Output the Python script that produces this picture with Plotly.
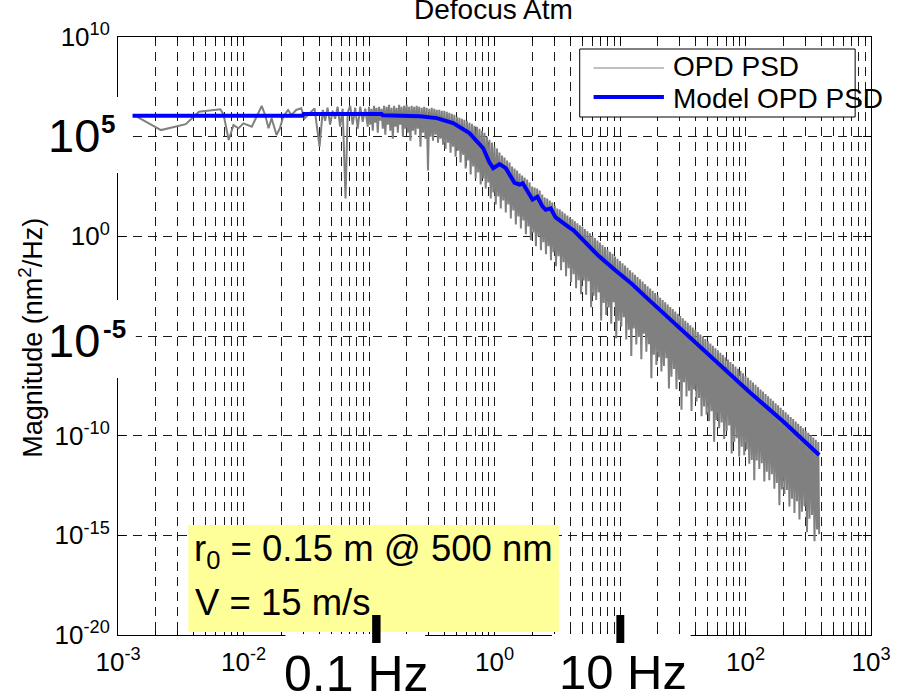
import plotly.graph_objects as go

opd_log_f = [
    -2.847, -2.657, -2.46, -2.355, -2.184, -2.158, -2.118, -2.08, -2.04, -2.0,
    -1.934, -1.855, -1.828, -1.80, -1.776, -1.737, -1.71, -1.684, -1.645, -1.618,
    -1.58, -1.54, -1.513, -1.473, -1.434, -1.394, -1.368, -1.35, -1.33, -1.31,
    -1.29, -1.27, -1.25, -1.23, -1.21, -1.187, -1.17, -1.15, -1.13, -1.11,
    -1.09, -1.07, -1.05, -1.03, -1.01,
    -1.00, -0.99, -0.98, -0.97, -0.96, -0.95, -0.94, -0.93, -0.92, -0.91,
    -0.90, -0.89, -0.88, -0.87, -0.86, -0.85, -0.84, -0.83, -0.82, -0.81,
    -0.80, -0.79, -0.78, -0.77, -0.76, -0.75, -0.74, -0.73, -0.72, -0.71,
    -0.70, -0.69, -0.68, -0.67, -0.66, -0.65, -0.64, -0.63, -0.62, -0.61,
    -0.60, -0.59, -0.58, -0.57, -0.56, -0.55, -0.54, -0.53, -0.52, -0.51,
    -0.50, -0.49, -0.48, -0.47, -0.46, -0.45, -0.44, -0.43, -0.42, -0.41,
    -0.40, -0.39, -0.38, -0.37, -0.36, -0.35, -0.34, -0.33, -0.32, -0.31,
    -0.30, -0.29, -0.28, -0.27, -0.26, -0.25, -0.24, -0.23, -0.22, -0.21,
    -0.20, -0.19, -0.18, -0.17, -0.16, -0.15, -0.14, -0.13, -0.12, -0.11,
    -0.10, -0.09, -0.08, -0.07, -0.06, -0.05, -0.04, -0.03, -0.02, -0.01,
    0.00, 0.01, 0.02, 0.03, 0.04, 0.05, 0.06, 0.07, 0.08, 0.09,
    0.10, 0.11, 0.12, 0.13, 0.14, 0.15, 0.16, 0.17, 0.18, 0.19,
    0.20, 0.21, 0.22, 0.23, 0.24, 0.25, 0.26, 0.27, 0.28, 0.29,
    0.30, 0.31, 0.32, 0.33, 0.34, 0.35, 0.36, 0.37, 0.38, 0.39,
    0.40, 0.41, 0.42, 0.43, 0.44, 0.45, 0.46, 0.47, 0.48, 0.49,
    0.50, 0.51, 0.52, 0.53, 0.54, 0.55, 0.56, 0.57, 0.58, 0.59,
    0.60, 0.61, 0.62, 0.63, 0.64, 0.65, 0.66, 0.67, 0.68, 0.69,
    0.70, 0.71, 0.72, 0.73, 0.74, 0.75, 0.76, 0.77, 0.78, 0.79,
    0.80, 0.81, 0.82, 0.83, 0.84, 0.85, 0.86, 0.87, 0.88, 0.89,
    0.90, 0.91, 0.92, 0.93, 0.94, 0.95, 0.96, 0.97, 0.98, 0.99,
    1.00, 1.01, 1.02, 1.03, 1.04, 1.05, 1.06, 1.07, 1.08, 1.09,
    1.10, 1.11, 1.12, 1.13, 1.14, 1.15, 1.16, 1.17, 1.18, 1.19,
    1.20, 1.21, 1.22, 1.23, 1.24, 1.25, 1.26, 1.27, 1.28, 1.29,
    1.30, 1.31, 1.32, 1.33, 1.34, 1.35, 1.36, 1.37, 1.38, 1.39,
    1.40, 1.41, 1.42, 1.43, 1.44, 1.45, 1.46, 1.47, 1.48, 1.49,
    1.50, 1.51, 1.52, 1.53, 1.54, 1.55, 1.56, 1.57, 1.58, 1.59,
    1.60, 1.61, 1.62, 1.63, 1.64, 1.65, 1.66, 1.67, 1.68, 1.69,
    1.70, 1.71, 1.72, 1.73, 1.74, 1.75, 1.76, 1.77, 1.78, 1.79,
    1.80, 1.81, 1.82, 1.83, 1.84, 1.85, 1.86, 1.87, 1.88, 1.89,
    1.90, 1.91, 1.92, 1.93, 1.94, 1.95, 1.96, 1.97, 1.98, 1.99,
    2.00, 2.01, 2.02, 2.03, 2.04, 2.05, 2.06, 2.07, 2.08, 2.09,
    2.10, 2.11, 2.12, 2.13, 2.14, 2.15, 2.16, 2.17, 2.18, 2.19,
    2.20, 2.21, 2.22, 2.23, 2.24, 2.25, 2.26, 2.27, 2.28, 2.29,
    2.30, 2.31, 2.32, 2.33, 2.34, 2.35, 2.36, 2.37, 2.38, 2.39,
    2.40, 2.41, 2.42, 2.43, 2.44, 2.45, 2.46, 2.47, 2.48, 2.49,
    2.50, 2.51, 2.52, 2.53, 2.54, 2.55, 2.56, 2.57, 2.58, 2.587,
]
opd_log_p = [
    5.99, 5.33, 5.63, 6.25, 6.37, 6.09, 4.83, 5.58, 5.42, 5.67,
    5.50, 6.54, 6.09, 5.42, 5.92, 5.08, 5.42, 6.00, 6.34, 6.09,
    6.34, 6.42, 5.92, 6.17, 6.42, 4.50, 6.34, 5.80, 6.45, 5.60,
    6.30, 5.90, 6.50, 5.50, 6.40, 1.90, 6.20, 6.55, 5.60, 6.45,
    5.40, 6.50, 5.75, 6.40, 5.50,
    6.50, 5.60, 6.40, 5.30, 6.55, 5.70, 6.45, 5.20, 6.50, 5.80,
    6.40, 5.40, 6.55, 5.10, 6.50, 5.60, 6.60, 5.30, 6.45, 4.90,
    6.55, 5.50, 6.45, 5.20, 6.60, 5.60, 6.50, 5.00, 6.55, 5.40,
    6.60, 5.20, 6.50, 4.80, 6.55, 5.30, 6.50, 5.10, 6.55, 5.40,
    6.50, 4.50, 6.45, 5.20, 6.50, 4.90, 6.45, 3.30, 6.40, 5.00,
    6.45, 4.80, 6.40, 5.10, 6.35, 4.70, 6.35, 4.90, 6.30, 4.60,
    6.30, 4.40, 6.25, 4.70, 6.20, 4.20, 6.15, 4.50, 6.10, 4.00,
    6.00, 4.30, 5.95, 3.70, 5.90, 4.10, 5.85, 3.40, 5.80, 3.80,
    5.70, 3.10, 5.65, 3.50, 5.55, 2.90, 5.50, 3.20, 5.40, 2.60,
    5.30, 2.90, 5.20, 2.40, 5.00, 2.70, 4.85, 1.90, 4.70, 2.20,
    4.50, 1.60, 4.40, 2.00, 4.20, 1.40, 4.05, 1.80, 3.95, 1.20,
    3.80, 1.60, 3.70, 0.90, 3.50, 1.30, 3.40, 0.60, 3.30, 1.00,
    3.15, 0.40, 3.05, 0.80, 2.95, 0.10, 2.85, 0.50, 2.70, -0.20,
    2.50, 0.20, 2.45, -0.50, 2.40, 0.00, 2.30, -0.70, 2.10, -0.30,
    1.95, -0.90, 1.90, -0.50, 1.80, -1.20, 1.70, -0.80, 1.55, -1.50,
    1.40, -1.00, 1.35, -1.70, 1.25, -1.30, 1.15, -2.00, 1.05, -1.60,
    0.95, -2.30, 0.85, -1.90, 0.75, -2.60, 0.65, -2.20, 0.55, -2.90,
    0.49, -2.22, 0.37, -2.93, 0.26, -2.25, 0.15, -3.56, 0.03, -2.98,
    -0.08, -3.19, -0.21, -2.81, -0.31, -4.22, -0.44, -3.34, -0.54, -3.95,
    -0.66, -3.57, -0.78, -4.38, -0.88, -3.30, -1.01, -5.11, -1.12, -4.23,
    -1.24, -4.54, -1.35, -4.06, -1.47, -5.17, -1.58, -4.69, -1.70, -6.00,
    -1.81, -4.62, -1.93, -5.43, -2.04, -5.05, -2.16, -6.16, -2.27, -4.88,
    -2.39, -5.79, -2.50, -5.41, -2.62, -7.12, -2.73, -5.94, -2.85, -6.45,
    -2.96, -6.07, -3.08, -6.78, -3.19, -6.50, -3.31, -6.11, -3.42, -7.63,
    -3.54, -7.04, -3.65, -6.66, -3.77, -7.67, -3.88, -7.19, -4.00, -8.70,
    -4.11, -7.32, -4.23, -8.03, -4.34, -7.75, -4.46, -8.76, -4.57, -7.68,
    -4.69, -8.29, -4.80, -8.11, -4.92, -9.02, -5.03, -8.54, -5.15, -8.95,
    -5.26, -9.27, -5.38, -8.78, -5.49, -10.30, -5.61, -9.21, -5.72, -9.63,
    -5.84, -9.34, -5.95, -10.16, -6.07, -9.77, -6.18, -9.49, -6.30, -10.90,
    -6.41, -10.32, -6.53, -10.13, -6.64, -11.05, -6.76, -10.56, -6.87, -10.98,
    -6.99, -10.69, -7.10, -11.41, -7.22, -11.22, -7.33, -12.24, -7.45, -11.25,
    -7.56, -11.67, -7.68, -11.38, -7.79, -12.30, -7.91, -11.81, -8.02, -12.23,
    -8.14, -11.94, -8.25, -12.66, -8.37, -12.37, -8.48, -13.49, -8.60, -12.70,
    -8.71, -12.92, -8.83, -12.73, -8.94, -13.55, -9.06, -13.16, -9.17, -13.88,
    -9.29, -13.29, -9.40, -14.21, -9.52, -13.82, -9.63, -13.54, -9.75, -14.85,
    -9.86, -14.17, -9.98, -13.98, -10.09, -15.30, -10.21, -14.71, -10.32, -14.95,
]

# model OPD PSD
model_log_f = [
    -2.884, -1.53, -1.52, -0.90, -0.89, -0.70, -0.595, -0.46, -0.33, -0.20,
    -0.09, -0.04, -0.01, 0.04, 0.09, 0.16, 0.20, 0.225, 0.276, 0.303,
    0.342, 0.382, 0.408, 0.448, 0.487, 0.52, 0.545, 0.566, 0.60, 0.63,
    0.698, 0.829, 0.96, 1.093, 1.224, 1.356, 1.487, 1.618, 1.776, 2.04,
    2.303, 2.587,
]
model_log_p = [
    6.05, 6.05, 6.14, 6.14, 6.07, 6.05, 6.03, 5.93, 5.68, 5.18,
    4.42, 3.70, 3.42, 3.62, 3.42, 2.68, 2.60, 2.66, 2.15, 1.84,
    1.98, 1.50, 1.33, 1.40, 0.95, 0.78, 0.70, 0.55, 0.42, 0.30,
    -0.15, -0.98, -1.69, -2.38, -3.15, -3.92, -4.68, -5.40, -6.33, -7.86,
    -9.30, -10.97,
]

x_tick_vals = [1e-3, 1e-2, 1e-1, 1e0, 1e1, 1e2, 1e3]
x_tick_text = ["10<sup>-3</sup>", "10<sup>-2</sup>", "", "10<sup>0</sup>", "",
               "10<sup>2</sup>", "10<sup>3</sup>"]
y_tick_vals = [1e10, 1e5, 1e0, 1e-5, 1e-10, 1e-15, 1e-20]
y_tick_text = ["10<sup>10</sup>", "", "10<sup>0</sup>", "", "10<sup>-10</sup>",
               "10<sup>-15</sup>", "10<sup>-20</sup>"]

FONT = "Liberation Sans, Arial, sans-serif"
GRID = dict(showgrid=True, gridcolor="#1a1a1a", gridwidth=1, griddash="9px,6px")

# plot box in pixels
L, R, T, B = 118, 878, 37, 635


def px(x):
    return (x - L) / (R - L)


def py(y):
    return (B - y) / (B - T)


def rect(x0, y0, x1, y1, fill, line=None):
    return dict(type="rect", xref="paper", yref="paper", layer="above",
                x0=px(x0), x1=px(x1), y0=py(y1), y1=py(y0),
                fillcolor=fill, line=dict(width=1 if line else 0, color=line or fill))


def text(s, x, y, size, xanchor="center", yanchor="middle", angle=0):
    return dict(text=s, x=px(x), y=py(y), xref="paper", yref="paper",
                xanchor=xanchor, yanchor=yanchor, showarrow=False, textangle=angle,
                font=dict(family=FONT, size=size, color="black"))


fig = go.Figure()
fig.add_trace(go.Scatter(
    x=[10 ** v for v in opd_log_f], y=[10 ** v for v in opd_log_p],
    mode="lines", name="OPD PSD", line=dict(color="#808080", width=2)))
fig.add_trace(go.Scatter(
    x=[10 ** v for v in model_log_f], y=[10 ** v for v in model_log_p],
    mode="lines", name="Model OPD PSD", line=dict(color="#0000ff", width=4)))

minor_x = [m * 10.0 ** k for k in range(-3, 3) for m in range(2, 10)]

fig.update_xaxes(
    type="log", range=[-3, 3], tickmode="array", tickvals=x_tick_vals, ticktext=x_tick_text,
    showline=True, linecolor="black", linewidth=1, mirror="allticks",
    ticks="inside", ticklen=8, tickcolor="black", ticklabelstandoff=4,
    tickfont=dict(family=FONT, size=26, color="black"),
    minor=dict(tickmode="array", tickvals=minor_x, ticks="inside", ticklen=4,
               tickcolor="black", **GRID),
    zeroline=False, **GRID)
fig.update_yaxes(
    type="log", range=[-20, 10], tickmode="array", tickvals=y_tick_vals, ticktext=y_tick_text,
    showline=True, linecolor="black", linewidth=1, mirror="allticks",
    ticks="inside", ticklen=8, tickcolor="black", ticklabelstandoff=2,
    tickfont=dict(family=FONT, size=26, color="black"),
    zeroline=False, **GRID)

shapes = [
    # yellow note box
    rect(189, 525, 563, 632, "#ffff99"),
    # white patches behind the enlarged labels
    rect(50, 97, 131, 173, "white"),
    rect(50, 300, 136, 378, "white"),
    rect(287, 634, 428, 693, "white"),
    rect(556, 634, 696, 693, "white"),
    # thick frequency markers
    rect(374.5, 615, 383, 643, "black"),
    rect(621, 615, 629, 643, "black"),
    # legend
    rect(584, 49, 862, 117, "white", "black"),
    dict(type="line", xref="paper", yref="paper", layer="above",
         x0=px(598), x1=px(669), y0=py(68), y1=py(68), line=dict(color="#808080", width=1)),
    dict(type="line", xref="paper", yref="paper", layer="above",
         x0=px(598), x1=px(669), y0=py(97), y1=py(97), line=dict(color="#0000ff", width=4)),
]

annotations = [
    text("Defocus Atm", 497, 9.5, 28),
    text("Magnitude (nm<sup>2</sup>/Hz)", 30, 338, 27, angle=-90),
    text("OPD PSD", 676, 66.7, 28, xanchor="left"),
    text("Model OPD PSD", 676, 98.7, 28, xanchor="left"),
    text("10", 102, 135.7, 47, xanchor="right"),
    text("<b>5</b>", 99, 124, 26, xanchor="left"),
    text("10", 102, 340.7, 47, xanchor="right"),
    text("<b>-5</b>", 101, 329, 26, xanchor="left"),
    text("0.1 Hz", 358.5, 673.5, 50),
    text("10 Hz", 628, 671.5, 49),
    text("r<sub>0</sub> = 0.15 m @ 500 nm", 193, 526, 36.5, xanchor="left", yanchor="top"),
    text("V = 15 m/s", 194, 580, 36.5, xanchor="left", yanchor="top"),
]

fig.update_layout(
    width=903, height=693, margin=dict(l=L, r=903 - R, t=T, b=693 - B),
    paper_bgcolor="white", plot_bgcolor="white", showlegend=False,
    font=dict(family=FONT, color="black"),
    shapes=shapes, annotations=annotations)

# drop the page's default body margin so the figure sits at the window corner
fig.write_html("out.html", config={"displayModeBar": False},
               post_script="document.body.style.margin = '0px';")
